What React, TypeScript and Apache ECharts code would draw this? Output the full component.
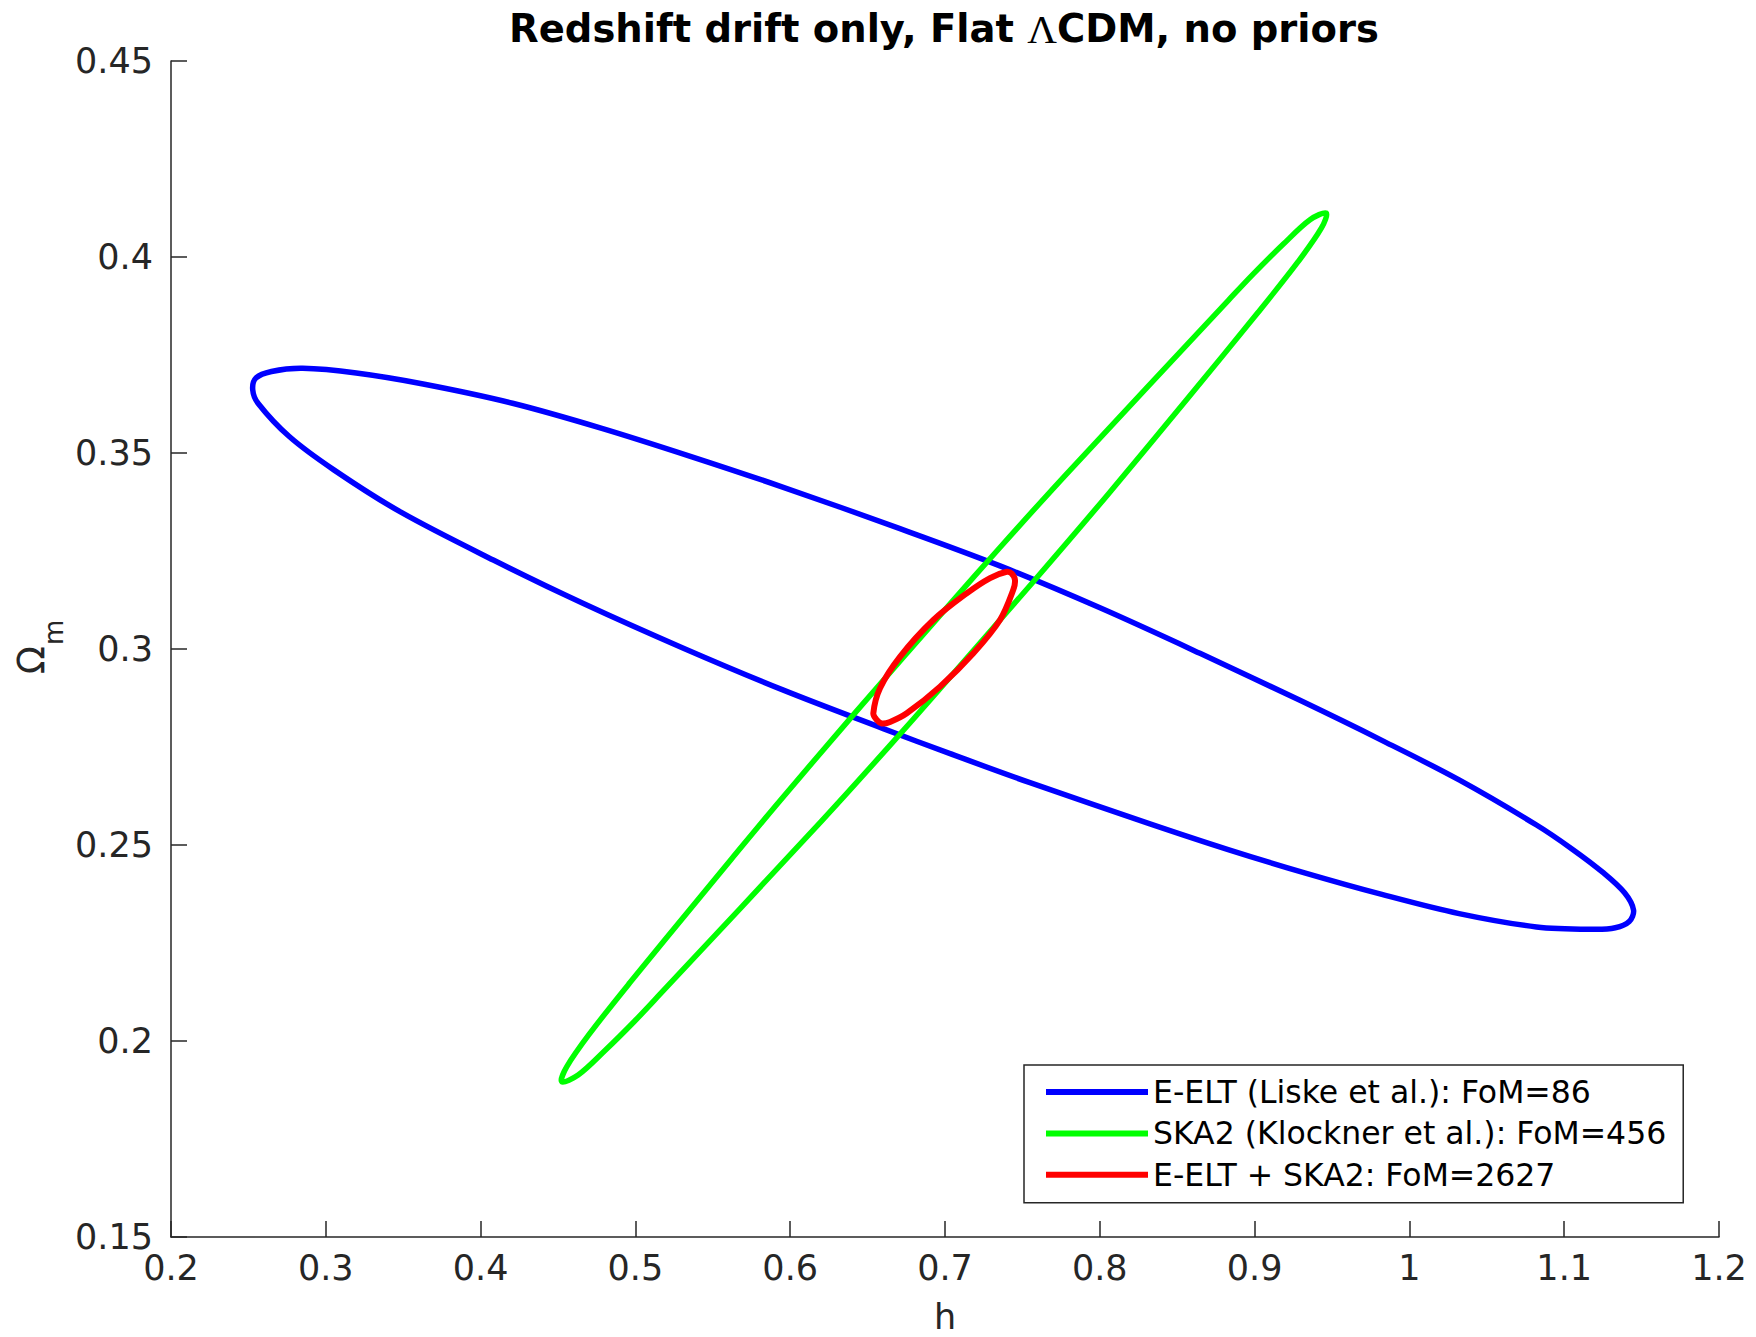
import React, { useEffect, useRef } from "react";
import * as echarts from "echarts";

const FONT = '"DejaVu Sans", "Liberation Sans", sans-serif';
const AXIS_COLOR = "#262626";

// Axis ranges and tick steps
const hTicks = [0.2, 0.3, 0.4, 0.5, 0.6, 0.7, 0.8, 0.9, 1.0, 1.1, 1.2];
const omegaTicks = [0.15, 0.2, 0.25, 0.3, 0.35, 0.4, 0.45];
const H_STEP = 0.1;
const OMEGA_STEP = 0.05;

// Legend entries and colours
const seriesNames = [
  "E-ELT (Liske et al.): FoM=86",
  "SKA2 (Klockner et al.): FoM=456",
  "E-ELT + SKA2: FoM=2627",
];
const seriesColors = ["#0000ff", "#00ff00", "#ff0000"];

// E-ELT confidence contour (h, Omega_m), traced once around the loop
const eeltH = [
  0.6709, 0.7355, 0.8001, 0.8647, 0.9293, 0.9822, 1.0321, 1.0821, 1.105, 1.125, 1.139, 1.1448,
  1.142, 1.133, 1.1195, 1.0821, 1.0321, 0.9822, 0.9323, 0.8824, 0.8324, 0.7549,
  0.7033, 0.6601, 0.5956, 0.531, 0.4664, 0.4082, 0.3485, 0.3052, 0.2764, 0.2562,
  0.2528, 0.2548, 0.2649, 0.2851, 0.3197, 0.3629, 0.4206, 0.4783, 0.536, 0.5937,
];
const eeltOm = [
  0.3307, 0.3212, 0.3105, 0.2989, 0.2869, 0.2767, 0.2666, 0.2551, 0.249, 0.243, 0.2378, 0.2334,
  0.2305, 0.2289, 0.2285, 0.2291, 0.2325, 0.2374, 0.2429, 0.2489, 0.2554, 0.2659,
  0.2733, 0.2797, 0.2895, 0.3002, 0.3116, 0.3227, 0.3349, 0.3457, 0.3542, 0.3627,
  0.3661, 0.3691, 0.3708, 0.3716, 0.3704, 0.3676, 0.3627, 0.3563, 0.3491, 0.3415,
];

// SKA2 confidence contour
const ska2H = [
  0.7033, 0.7355, 0.7786, 0.8832, 0.8992, 0.9186, 0.9358, 0.9463, 0.9432, 0.9281,
  0.9023, 0.8571, 0.8054, 0.7569, 0.6955, 0.6633, 0.6202, 0.5156, 0.4996, 0.4802,
  0.463, 0.4524, 0.4556, 0.4707, 0.4965, 0.5417, 0.5622, 0.5934, 0.6419,
];
const ska2Om = [
  0.3115, 0.3259, 0.3447, 0.389, 0.3957, 0.4033, 0.4095, 0.4112, 0.4074, 0.3988,
  0.3859, 0.3641, 0.3395, 0.3171, 0.2893, 0.2749, 0.2561, 0.2118, 0.2051, 0.1975,
  0.1913, 0.1896, 0.1934, 0.202, 0.2149, 0.2367, 0.2465, 0.2613, 0.2837,
];

// Combined E-ELT + SKA2 contour
const combH = [
  0.6968, 0.7183, 0.7355, 0.7441, 0.7452, 0.743, 0.7398, 0.7291, 0.714, 0.6925,
  0.6709, 0.658, 0.6537, 0.6559, 0.6591, 0.6645, 0.6753,
];
const combOm = [
  0.2904, 0.2989, 0.3074, 0.3151, 0.3176, 0.3193, 0.3197, 0.3181, 0.3142, 0.3074,
  0.298, 0.29, 0.2836, 0.2819, 0.281, 0.2814, 0.2836,
];

const zip = (xs: number[], ys: number[]) => xs.map((x, i) => [x, ys[i]]);
const fmt = (v: number) => String(Number(v.toFixed(2)));

const contours = [zip(eeltH, eeltOm), zip(ska2H, ska2Om), zip(combH, combOm)];
const lineWidths = [5.5, 5.5, 6];

// Closed contour drawn as one smooth loop through its points, placed by the axes' scales
const contourSeries = (i: number) => ({
  name: seriesNames[i],
  type: "custom",
  coordinateSystem: "cartesian2d",
  data: contours[i],
  encode: { x: 0, y: 1 },
  itemStyle: { color: seriesColors[i] },
  z: 2 + i,
  renderItem: (params: any, api: any) => {
    if (params.dataIndex !== 0) return null;
    const points = contours[i].map((p) => api.coord(p));
    return {
      type: "polygon",
      shape: { points, smooth: 0.33 },
      style: { fill: "none", stroke: seriesColors[i], lineWidth: lineWidths[i] },
    };
  },
});

export default function App() {
  const ref = useRef<HTMLDivElement>(null);

  useEffect(() => {
    if (!ref.current) return;
    const chart = echarts.init(ref.current, undefined, { renderer: "svg" });

    const axisCommon = {
      type: "value" as const,
      axisLine: { show: true, onZero: false, lineStyle: { color: AXIS_COLOR, width: 1.5 } },
      axisTick: { show: true, inside: true, length: 16, lineStyle: { color: AXIS_COLOR, width: 1.5 } },
      splitLine: { show: false },
    };

    chart.setOption({
      animation: false,
      backgroundColor: "#ffffff",
      title: {
        text: "{b|Redshift drift only, Flat }{l|Λ}{b|CDM, no priors}",
        left: 939,
        top: 3,
        textAlign: "center",
        textStyle: {
          rich: {
            b: { fontFamily: FONT, fontWeight: "bold", fontSize: 38.5, color: "#000000" },
            l: { fontFamily: '"Liberation Serif", serif', fontWeight: "normal", fontSize: 41, color: "#000000" },
          },
        },
      },
      grid: {
        left: 171,
        top: 61,
        right: 37,
        bottom: 100,
        containLabel: false,
        outerBoundsMode: "none",
      },
      xAxis: {
        ...axisCommon,
        min: hTicks[0],
        max: hTicks[hTicks.length - 1],
        interval: H_STEP,
        name: "h",
        nameLocation: "middle",
        nameGap: 66,
        nameTextStyle: { fontFamily: FONT, fontSize: 35, lineHeight: 28, color: AXIS_COLOR },
        axisLabel: { margin: 13, fontFamily: FONT, fontSize: 35, color: AXIS_COLOR, formatter: fmt },
      },
      yAxis: {
        ...axisCommon,
        min: omegaTicks[0],
        max: omegaTicks[omegaTicks.length - 1],
        interval: OMEGA_STEP,
        axisLabel: { margin: 18, fontFamily: FONT, fontSize: 35, color: AXIS_COLOR, formatter: fmt },
      },
      legend: {
        orient: "vertical",
        left: 1024,
        top: 1065,
        padding: [10, 17, 11, 22],
        icon: "rect",
        itemWidth: 102,
        itemHeight: 6,
        itemGap: 7.4,
        itemTextGap: 22,
        borderColor: AXIS_COLOR,
        borderWidth: 1.5,
        backgroundColor: "#ffffff",
        textStyle: { fontFamily: FONT, fontSize: 31.5, lineHeight: 34, color: "#000000" },
        data: seriesNames.map((name, i) => ({ name, itemStyle: { color: seriesColors[i] } })),
      },
      graphic: [
        {
          type: "group",
          x: 31,
          y: 660,
          rotation: Math.PI / 2,
          children: [
            {
              type: "text",
              x: 0,
              y: 0,
              style: {
                text: "Ω",
                fontFamily: FONT,
                fontSize: 37,
                fill: AXIS_COLOR,
                align: "center",
                verticalAlign: "middle",
              },
            },
            {
              type: "text",
              x: 15,
              y: 23,
              style: {
                text: "m",
                fontFamily: FONT,
                fontSize: 26,
                fill: AXIS_COLOR,
                align: "left",
                verticalAlign: "middle",
              },
            },
          ],
        },
      ],
      series: [contourSeries(0), contourSeries(1), contourSeries(2)],
    });

    return () => chart.dispose();
  }, []);

  return (
    <div
      ref={ref}
      style={{ position: "absolute", left: 0, top: 0, width: 1756, height: 1337 }}
    />
  );
}
